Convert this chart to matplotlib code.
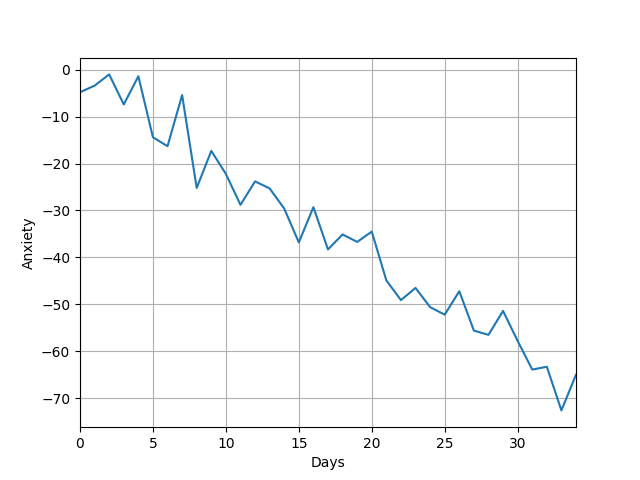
import numpy as np
import matplotlib
matplotlib.use('Agg')
import matplotlib.pyplot as plt

days = np.arange(35)
anxiety = [-4.8, -3.4, -1.0, -7.4, -1.4, -14.4, -16.3, -5.4, -25.2, -17.3,
           -22.2, -28.8, -23.8, -25.3, -29.6, -36.8, -29.3, -38.3, -35.1, -36.7,
           -34.5, -44.9, -49.1, -46.5, -50.6, -52.2, -47.2, -55.6, -56.5, -51.4,
           -57.8, -63.9, -63.3, -72.6, -65.0]

fig, ax = plt.subplots(figsize=(6.4, 4.8), dpi=100)
ax.plot(days, anxiety)
ax.set_xlim(0, 34)
ax.set_xlabel('Days')
ax.set_ylabel('Anxiety')
ax.grid(True)

fig.savefig('out.png')
